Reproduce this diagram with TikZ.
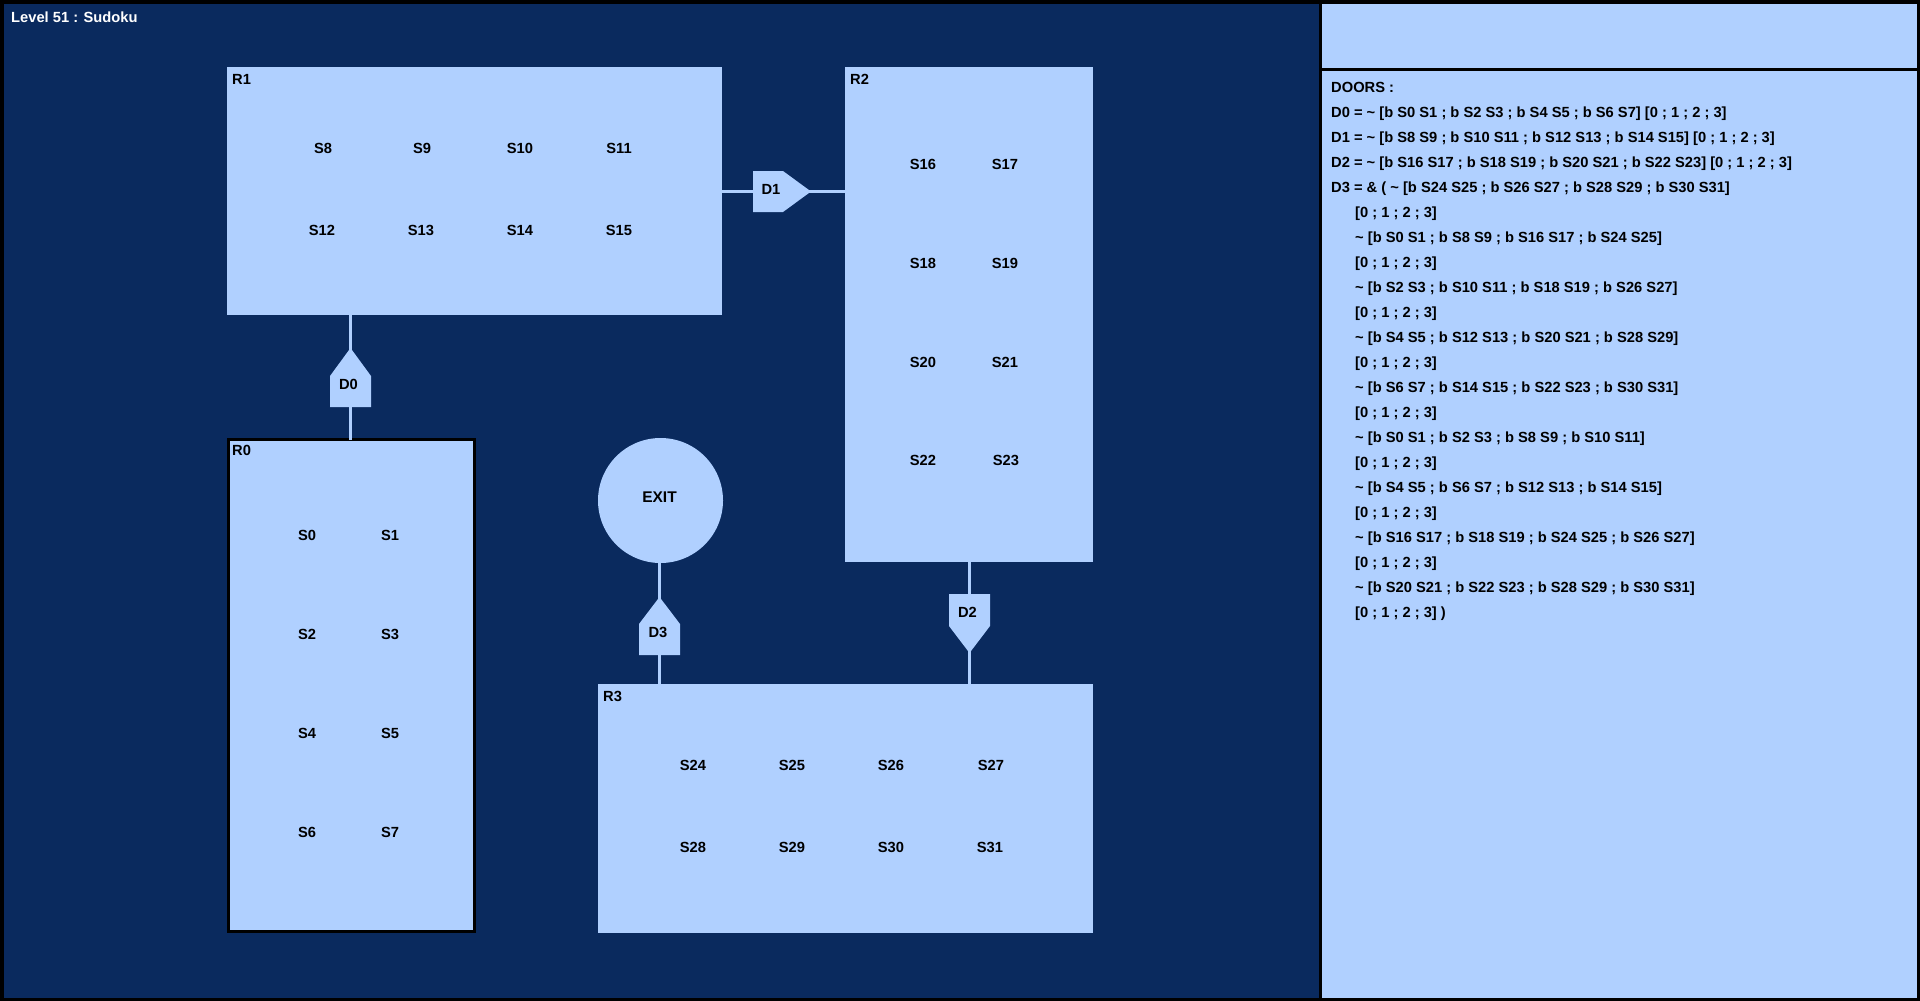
\documentclass[tikz,border=0pt]{standalone}
\usepackage{fontspec}
\setmainfont{Liberation Sans}
\definecolor{navy}{RGB}{10,42,94}
\definecolor{pale}{RGB}{176,208,255}
\begin{document}
\begin{tikzpicture}[x=1pt,y=-1pt,
  font=\fontsize{14.7}{17}\selectfont\bfseries,
  room/.style={fill=pale, draw=none, inner sep=0pt, outer sep=0pt, anchor=north west},
  lbl/.style={inner sep=0pt, text=black},
  rlbl/.style={inner sep=0pt, text=black, anchor=north west},
  txt/.style={inner sep=0pt, text=black, anchor=base west},
  conn/.style={draw=pale, line width=3pt},
  doorbox/.style={fill=pale, draw=none, inner sep=0pt, outer sep=0pt, anchor=north west}]
\useasboundingbox (0,0) rectangle (1920,1001);
% frame and panels
\fill[black] (0,0) rectangle (1920,1001);
\fill[navy] (4,4) rectangle (1319,998);
\fill[pale] (1322,4) rectangle (1917,68);
\fill[pale] (1322,71) rectangle (1917,998);
\node[lbl, anchor=north west, text=white] (title) at (11,12) {Level 51 : Sudoku};

% rooms
\node[room, minimum width=495pt, minimum height=248pt] (R1) at (227,67) {};
\node[room, minimum width=248pt, minimum height=495pt] (R2) at (845,67) {};
\node[room, minimum width=495pt, minimum height=249pt] (R3) at (598,684) {};
\node[room, draw=black, line width=3pt, minimum width=246pt, minimum height=492pt] (R0) at (228.5,439.5) {};
\node[circle, fill=pale, draw=none, minimum size=125pt, inner sep=0pt, outer sep=0pt] (EXIT) at (660.5,500.5) {};
\node[lbl, font=\fontsize{15.5}{17}\selectfont\bfseries] (exitlbl) at (659.5,497.5) {EXIT};

\node[rlbl] (R1l) at (232,74) {R1};
\node[rlbl] (R2l) at (850,74) {R2};
\node[rlbl] (R0l) at (232,445) {R0};
\node[rlbl] (R3l) at (603,691) {R3};

% door boxes
\node[doorbox, minimum width=41pt, minimum height=31pt] (D0b) at (330,376) {};
\node[doorbox, minimum width=30pt, minimum height=41pt] (D1b) at (753,171) {};
\node[doorbox, minimum width=41pt, minimum height=32pt] (D2b) at (949,594) {};
\node[doorbox, minimum width=41pt, minimum height=31pt] (D3b) at (639,624) {};

% connectors
\draw[conn] (R1.south -| D0b) -- (R0.north -| D0b);
\draw[conn] (R1.east |- D1b) -- (R2.west |- D1b);
\draw[conn] (R2.south -| D2b) -- (R3.north -| D2b);
\draw[conn] (EXIT.south -| D3b) -- (R3.north -| D3b);

% door shapes
\fill[pale] (D0b.south west) -- (D0b.north west) -- (350.5,348) -- (D0b.north east) -- (D0b.south east) -- cycle;
\fill[pale] (D1b.north west) -- (D1b.north east) -- (811,191.5) -- (D1b.south east) -- (D1b.south west) -- cycle;
\fill[pale] (D2b.north west) -- (D2b.south west) -- (969.5,653) -- (D2b.south east) -- (D2b.north east) -- cycle;
\fill[pale] (D3b.south west) -- (D3b.north west) -- (659.5,597) -- (D3b.north east) -- (D3b.south east) -- cycle;

\node[lbl] (D0) at (348.5,384) {D0};
\node[lbl] (D1) at (771,189.5) {D1};
\node[lbl] (D2) at (967.5,612) {D2};
\node[lbl] (D3) at (658,632) {D3};

% slots R1
\node[lbl] (S8) at (323,148) {S8};
\node[lbl] (S9) at (422,148) {S9};
\node[lbl] (S10) at (520,148) {S10};
\node[lbl] (S11) at (619,148) {S11};
\node[lbl] (S12) at (322,230) {S12};
\node[lbl] (S13) at (421,230) {S13};
\node[lbl] (S14) at (520,230) {S14};
\node[lbl] (S15) at (619,230) {S15};
% slots R2
\node[lbl] (S16) at (923,164) {S16};
\node[lbl] (S17) at (1005,164) {S17};
\node[lbl] (S18) at (923,263) {S18};
\node[lbl] (S19) at (1005,263) {S19};
\node[lbl] (S20) at (923,362) {S20};
\node[lbl] (S21) at (1005,362) {S21};
\node[lbl] (S22) at (923,460) {S22};
\node[lbl] (S23) at (1006,460) {S23};
% slots R0
\node[lbl] (S0) at (307,535.5) {S0};
\node[lbl] (S1) at (390,535.5) {S1};
\node[lbl] (S2) at (307,634) {S2};
\node[lbl] (S3) at (390,634) {S3};
\node[lbl] (S4) at (307,733) {S4};
\node[lbl] (S5) at (390,733) {S5};
\node[lbl] (S6) at (307,832) {S6};
\node[lbl] (S7) at (390,832) {S7};
% slots R3
\node[lbl] (S24) at (693,765) {S24};
\node[lbl] (S25) at (792,765) {S25};
\node[lbl] (S26) at (891,765) {S26};
\node[lbl] (S27) at (991,765) {S27};
\node[lbl] (S28) at (693,847) {S28};
\node[lbl] (S29) at (792,847) {S29};
\node[lbl] (S30) at (891,847) {S30};
\node[lbl] (S31) at (990,847) {S31};

% doors text
\node[txt] (t0) at (1331,92) {DOORS :};
\node[txt] (t1) at (1331,117) {D0 = \textasciitilde{} [b S0 S1 ; b S2 S3 ; b S4 S5 ; b S6 S7] [0 ; 1 ; 2 ; 3]};
\node[txt] (t2) at (1331,142) {D1 = \textasciitilde{} [b S8 S9 ; b S10 S11 ; b S12 S13 ; b S14 S15] [0 ; 1 ; 2 ; 3]};
\node[txt] (t3) at (1331,167) {D2 = \textasciitilde{} [b S16 S17 ; b S18 S19 ; b S20 S21 ; b S22 S23] [0 ; 1 ; 2 ; 3]};
\node[txt] (t4) at (1331,192) {D3 = \& ( \textasciitilde{} [b S24 S25 ; b S26 S27 ; b S28 S29 ; b S30 S31]};
\node[txt] (t5) at (1355,217) {[0 ; 1 ; 2 ; 3]};
\node[txt] (t6) at (1355,242) {\textasciitilde{} [b S0 S1 ; b S8 S9 ; b S16 S17 ; b S24 S25]};
\node[txt] (t7) at (1355,267) {[0 ; 1 ; 2 ; 3]};
\node[txt] (t8) at (1355,292) {\textasciitilde{} [b S2 S3 ; b S10 S11 ; b S18 S19 ; b S26 S27]};
\node[txt] (t9) at (1355,317) {[0 ; 1 ; 2 ; 3]};
\node[txt] (t10) at (1355,342) {\textasciitilde{} [b S4 S5 ; b S12 S13 ; b S20 S21 ; b S28 S29]};
\node[txt] (t11) at (1355,367) {[0 ; 1 ; 2 ; 3]};
\node[txt] (t12) at (1355,392) {\textasciitilde{} [b S6 S7 ; b S14 S15 ; b S22 S23 ; b S30 S31]};
\node[txt] (t13) at (1355,417) {[0 ; 1 ; 2 ; 3]};
\node[txt] (t14) at (1355,442) {\textasciitilde{} [b S0 S1 ; b S2 S3 ; b S8 S9 ; b S10 S11]};
\node[txt] (t15) at (1355,467) {[0 ; 1 ; 2 ; 3]};
\node[txt] (t16) at (1355,492) {\textasciitilde{} [b S4 S5 ; b S6 S7 ; b S12 S13 ; b S14 S15]};
\node[txt] (t17) at (1355,517) {[0 ; 1 ; 2 ; 3]};
\node[txt] (t18) at (1355,542) {\textasciitilde{} [b S16 S17 ; b S18 S19 ; b S24 S25 ; b S26 S27]};
\node[txt] (t19) at (1355,567) {[0 ; 1 ; 2 ; 3]};
\node[txt] (t20) at (1355,592) {\textasciitilde{} [b S20 S21 ; b S22 S23 ; b S28 S29 ; b S30 S31]};
\node[txt] (t21) at (1355,617) {[0 ; 1 ; 2 ; 3] )};
\end{tikzpicture}
\end{document}
